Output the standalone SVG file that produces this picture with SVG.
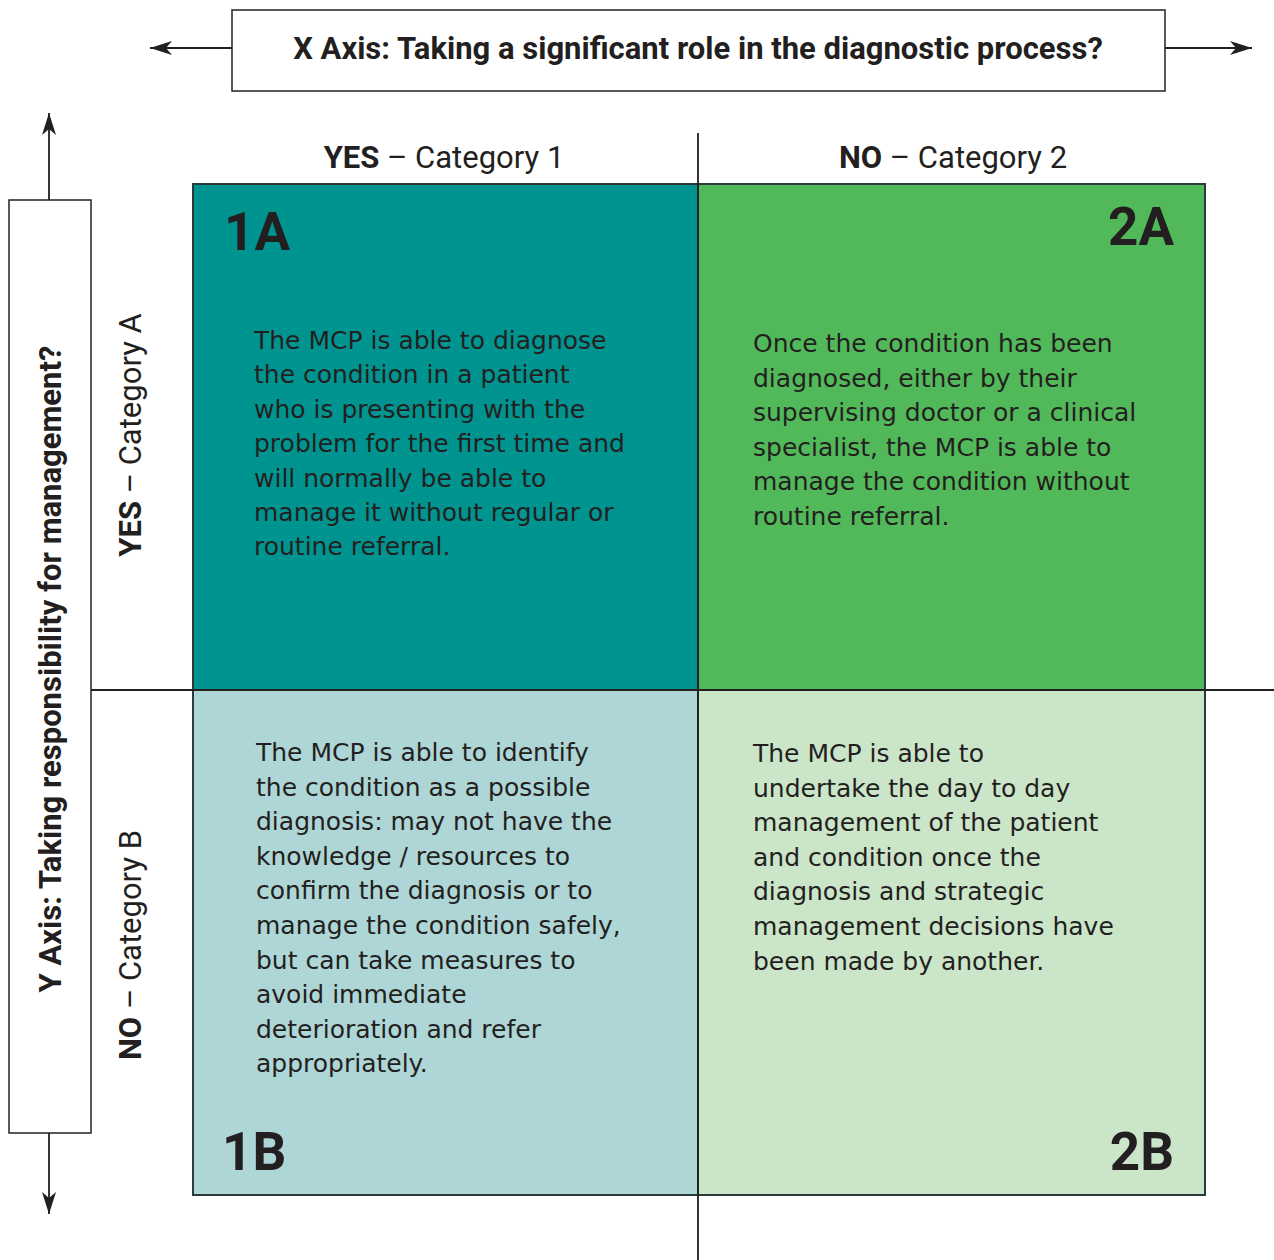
<svg xmlns="http://www.w3.org/2000/svg" width="1274" height="1260" viewBox="0 0 1274 1260">
<defs>
<style>
.box{fill:#fff;stroke:#231f20;stroke-width:1.5}
.quad{stroke:#2a3b3b;stroke-width:2}
.line{stroke:#231f20;stroke-width:1.8;fill:none}
.title{font-family:Roboto,"Liberation Sans",sans-serif;font-weight:bold;fill:#231f20}
.head{font-family:Roboto,"Liberation Sans",sans-serif;font-size:31px;fill:#231f20}
.head .b{font-weight:bold}
.body{font-family:"DejaVu Sans","Liberation Sans",sans-serif;font-size:25px;fill:#231f20}
.big{font-family:Roboto,"Liberation Sans",sans-serif;font-size:53px;font-weight:bold;fill:#231f20}
</style>
<marker id="arr" viewBox="0 0 22 14" refX="22" refY="7" markerWidth="22" markerHeight="14" markerUnits="userSpaceOnUse" orient="auto">
<path d="M0,0 L22,7 L0,14 L6,7 z" fill="#231f20"/>
</marker>
</defs>
<rect width="1274" height="1260" fill="#fff"/>

<g id="q1A"><rect class="quad" x="193" y="184" width="505" height="506" fill="#009490"/>
<text class="big" x="224" y="250">1A</text>
<text class="body"><tspan x="254" y="349">The MCP is able to diagnose</tspan><tspan x="254" y="383">the condition in a patient</tspan><tspan x="254" y="418">who is presenting with the</tspan><tspan x="254" y="452">problem for the first time and</tspan><tspan x="254" y="487">will normally be able to</tspan><tspan x="254" y="521">manage it without regular or</tspan><tspan x="254" y="555">routine referral.</tspan></text></g>

<g id="q2A"><rect class="quad" x="698" y="184" width="507" height="506" fill="#52b95a"/>
<text class="big" x="1174" y="245" text-anchor="end">2A</text>
<text class="body"><tspan x="753" y="352">Once the condition has been</tspan><tspan x="753" y="387">diagnosed, either by their</tspan><tspan x="753" y="421">supervising doctor or a clinical</tspan><tspan x="753" y="456">specialist, the MCP is able to</tspan><tspan x="753" y="490">manage the condition without</tspan><tspan x="753" y="525">routine referral.</tspan></text></g>

<g id="q1B"><rect class="quad" x="193" y="690" width="505" height="505" fill="#aed6d6"/>
<text class="big" x="222" y="1170">1B</text>
<text class="body"><tspan x="256" y="761">The MCP is able to identify</tspan><tspan x="256" y="796">the condition as a possible</tspan><tspan x="256" y="830">diagnosis: may not have the</tspan><tspan x="256" y="865">knowledge / resources to</tspan><tspan x="256" y="899">confirm the diagnosis or to</tspan><tspan x="256" y="934">manage the condition safely,</tspan><tspan x="256" y="969">but can take measures to</tspan><tspan x="256" y="1003">avoid immediate</tspan><tspan x="256" y="1038">deterioration and refer</tspan><tspan x="256" y="1072">appropriately.</tspan></text></g>

<g id="q2B"><rect class="quad" x="698" y="690" width="507" height="505" fill="#cbe5c9"/>
<text class="big" x="1174" y="1170" text-anchor="end">2B</text>
<text class="body"><tspan x="753" y="762">The MCP is able to</tspan><tspan x="753" y="797">undertake the day to day</tspan><tspan x="753" y="831">management of the patient</tspan><tspan x="753" y="866">and condition once the</tspan><tspan x="753" y="900">diagnosis and strategic</tspan><tspan x="753" y="935">management decisions have</tspan><tspan x="753" y="970">been made by another.</tspan></text></g>

<g id="connectors">
<line class="line" x1="698" y1="133" x2="698" y2="1260"/>
<line class="line" x1="90" y1="690" x2="1274" y2="690"/>
<line class="line" x1="232" y1="48" x2="150" y2="48" marker-end="url(#arr)"/>
<line class="line" x1="1165" y1="48" x2="1252" y2="48" marker-end="url(#arr)"/>
<line class="line" x1="49" y1="200" x2="49" y2="113" marker-end="url(#arr)"/>
<line class="line" x1="49" y1="1133" x2="49" y2="1214" marker-end="url(#arr)"/>
</g>

<g id="xaxis"><rect class="box" x="232" y="10" width="933" height="81"/>
<text class="title" x="698" y="59" font-size="31" text-anchor="middle">X Axis: Taking a significant role in the diagnostic process?</text></g>

<g id="yaxis"><rect class="box" x="9" y="200" width="82" height="933"/>
<text class="title" transform="translate(61,669) rotate(-90)" font-size="31" text-anchor="middle">Y Axis: Taking responsibility for management?</text></g>

<g id="col1"><text class="head" x="444" y="168" text-anchor="middle"><tspan class="b">YES</tspan> – Category 1</text></g>
<g id="col2"><text class="head" x="953" y="168" text-anchor="middle"><tspan class="b">NO</tspan> – Category 2</text></g>
<g id="rowA"><text class="head" transform="translate(141,435) rotate(-90)" text-anchor="middle"><tspan class="b">YES</tspan> – Category A</text></g>
<g id="rowB"><text class="head" transform="translate(141,945) rotate(-90)" text-anchor="middle"><tspan class="b">NO</tspan> – Category B</text></g>
</svg>
